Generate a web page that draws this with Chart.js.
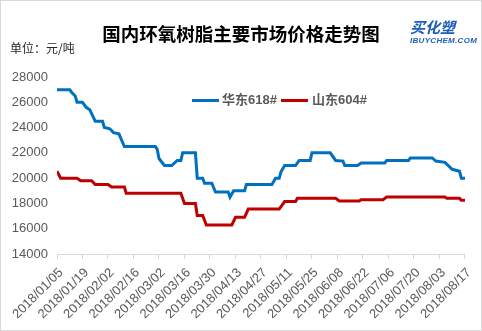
<!DOCTYPE html>
<html>
<head>
<meta charset="utf-8">
<title>国内环氧树脂主要市场价格走势图</title>
<script src="https://cdn.jsdelivr.net/npm/chart.js@4.4.1/dist/chart.umd.min.js"></script>
<style>
  body { margin: 0; background: #fff; }
  #wrap { position: relative; width: 482px; height: 331px; overflow: hidden; }
  #frame { position: absolute; left: 0; top: 0; width: 480px; height: 329px; border: 1px solid #d9d9d9; pointer-events: none; }
  #title { position: absolute; left: 0; width: 482px; top: 20px; text-align: center;
           font: bold 18.5px "Noto Sans CJK SC", sans-serif; color: #000; line-height: 26px; }
  #unit { position: absolute; left: 10px; top: 40px; font: 12px "Noto Sans CJK SC", sans-serif; color: #262626; line-height: 16px; }
  #logo1 { position: absolute; left: 410px; top: 18px; font: italic bold 15px "Noto Sans CJK SC", sans-serif; color: #1d5fb8; line-height: 18px; }
  #logo2 { position: absolute; left: 410px; top: 36px; font: italic bold 8px "Liberation Sans", sans-serif; color: #1d5fb8; line-height: 9px; letter-spacing: 0.3px; }
  .lg { position: absolute; top: 92px; font: bold 13px "Liberation Sans", "Noto Sans CJK SC", sans-serif; color: #595959; line-height: 16px; }
  .sw { position: absolute; top: 99px; height: 3px; width: 27px; }
</style>
</head>
<body>
<div id="wrap">
  <canvas id="chart" width="482" height="331"></canvas>
  <div id="title">国内环氧树脂主要市场价格走势图</div>
  <div id="unit">单位：元/吨</div>
  <div id="logo1">买化塑</div>
  <div id="logo2">IBUYCHEM.COM</div>
  <div class="sw" style="left:192px;background:#0070c0"></div>
  <div class="lg" style="left:222px">华东618#</div>
  <div class="sw" style="left:281px;background:#c00000"></div>
  <div class="lg" style="left:312px">山东604#</div>
  <div id="frame"></div>
</div>
<script>
// tick labels on the x axis, every 14 days
var tickLabels = ['2018/01/05','2018/01/19','2018/02/02','2018/02/16','2018/03/02','2018/03/16',
  '2018/03/30','2018/04/13','2018/04/27','2018/05/11','2018/05/25','2018/06/08','2018/06/22',
  '2018/07/06','2018/07/20','2018/08/03','2018/08/17'];

// 华东618#
var eastDates = ['2018/01/05','2018/01/12','2018/01/13','2018/01/15','2018/01/16','2018/01/19',
  '2018/01/21','2018/01/23','2018/01/24','2018/01/26','2018/01/30','2018/01/31','2018/02/03',
  '2018/02/05','2018/02/08','2018/02/11','2018/02/28','2018/03/01','2018/03/02','2018/03/05',
  '2018/03/09','2018/03/12','2018/03/14','2018/03/15','2018/03/22','2018/03/23','2018/03/26',
  '2018/03/27','2018/03/31','2018/04/02','2018/04/09','2018/04/10','2018/04/12','2018/04/18',
  '2018/04/19','2018/05/03','2018/05/05','2018/05/07','2018/05/08','2018/05/10','2018/05/16',
  '2018/05/18','2018/05/24','2018/05/25','2018/06/04','2018/06/07','2018/06/11','2018/06/12',
  '2018/06/19','2018/06/21','2018/07/04','2018/07/05','2018/07/17','2018/07/18','2018/07/30',
  '2018/08/01','2018/08/06','2018/08/10','2018/08/14','2018/08/15','2018/08/17'];
var eastPrices = [27000,27000,26800,26500,26000,26000,
  25600,25400,25100,24500,24500,24000,23900,
  23600,23500,22500,22500,22300,21550,21000,
  21000,21400,21400,22000,22000,20000,20000,
  19600,19600,18900,18900,18500,19000,19000,
  19500,19500,20000,20000,20500,21000,21000,
  21400,21400,22000,22000,21400,21350,21000,
  21000,21200,21200,21400,21400,21600,21600,
  21350,21250,20700,20550,20000,20000];

// 山东604#
var shandongDates = ['2018/01/05','2018/01/07','2018/01/16','2018/01/18','2018/01/24','2018/01/26',
  '2018/02/02','2018/02/04','2018/02/11','2018/02/12','2018/03/14','2018/03/16','2018/03/22',
  '2018/03/23','2018/03/26','2018/03/28','2018/04/11','2018/04/13','2018/04/18','2018/04/20',
  '2018/05/07','2018/05/10','2018/05/16','2018/05/17','2018/06/07','2018/06/09','2018/06/20',
  '2018/06/21','2018/07/03','2018/07/05','2018/08/06','2018/08/07','2018/08/14','2018/08/15',
  '2018/08/17'];
var shandongPrices = [20550,20000,20000,19800,19800,19500,
  19500,19300,19300,18800,18800,18000,18000,
  17050,17050,16300,16300,16900,16900,17550,
  17550,18150,18150,18400,18400,18200,18200,
  18300,18300,18500,18500,18400,18400,18250,
  18250];

var start = Date.UTC(2018, 0, 5);
function dayOf(s) {
  var p = s.split('/');
  return Math.round((Date.UTC(+p[0], +p[1] - 1, +p[2]) - start) / 86400000);
}
function pts(dates, vals) {
  return dates.map(function(d, i) { return { x: dayOf(d), y: vals[i] }; });
}

var tickFont = { family: '"Liberation Sans", sans-serif', size: 13 };

new Chart(document.getElementById('chart'), {
  type: 'line',
  data: {
    datasets: [
      { label: '华东618#', data: pts(eastDates, eastPrices), borderColor: '#0070c0', backgroundColor: '#0070c0',
        borderWidth: 3, pointRadius: 0, tension: 0, fill: false },
      { label: '山东604#', data: pts(shandongDates, shandongPrices), borderColor: '#c00000', backgroundColor: '#c00000',
        borderWidth: 3, pointRadius: 0, tension: 0, fill: false }
    ]
  },
  options: {
    responsive: false,
    animation: false,
    layout: { padding: { left: 0, right: 11, top: 77, bottom: 0 } },
    plugins: { legend: { display: false }, tooltip: { enabled: false } },
    scales: {
      x: {
        type: 'linear',
        min: 0, max: 224,
        afterFit: function(s) { s.height = 77; },
        afterBuildTicks: function(s) {
          s.ticks = tickLabels.map(function(t) { return { value: dayOf(t) }; });
        },
        ticks: {
          autoSkip: false, maxRotation: 45, minRotation: 45,
          color: '#595959', font: tickFont, padding: 6, labelOffset: 4,
          callback: function(v, i) { return tickLabels[i]; }
        },
        grid: { drawOnChartArea: false, tickLength: 5, color: '#d9d9d9' },
        border: { color: '#d9d9d9' }
      },
      y: {
        min: 14000, max: 28000,
        afterFit: function(s) { s.width = 57; },
        ticks: { stepSize: 2000, color: '#595959', font: tickFont, padding: 9,
                 callback: function(v) { return String(v); } },
        grid: { display: false, drawTicks: false },
        border: { display: false }
      }
    }
  }
});
</script>
</body>
</html>
